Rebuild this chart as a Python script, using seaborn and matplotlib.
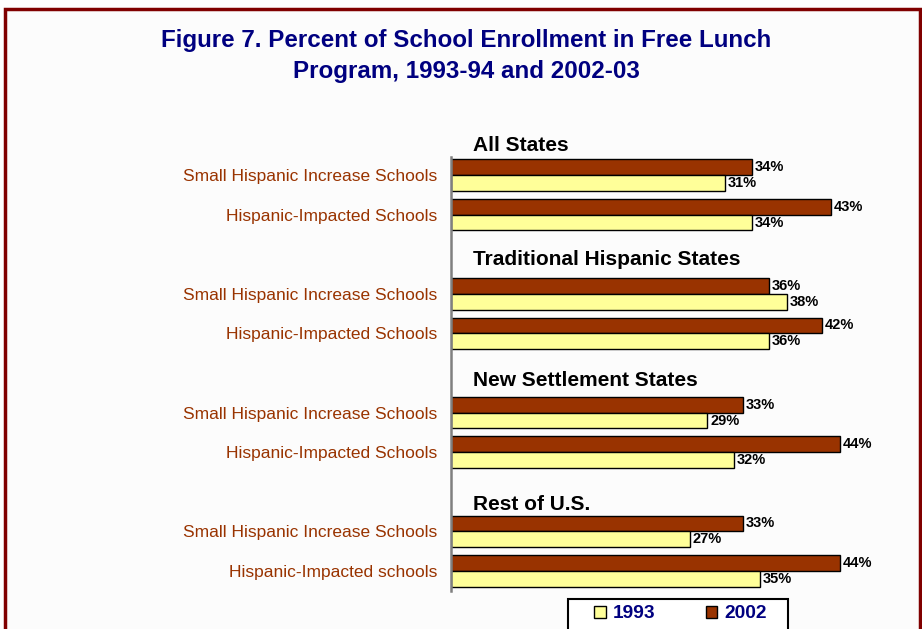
import pandas as pd
import matplotlib.pyplot as plt
import matplotlib.patches as mpatches
import seaborn as sns

# Data
groups = ["All States", "Traditional Hispanic States", "New Settlement States", "Rest of U.S."]
school_types = [
    ["Small Hispanic Increase Schools", "Hispanic-Impacted Schools"],
    ["Small Hispanic Increase Schools", "Hispanic-Impacted Schools"],
    ["Small Hispanic Increase Schools", "Hispanic-Impacted Schools"],
    ["Small Hispanic Increase Schools", "Hispanic-Impacted schools"],
]
pct_1993 = [31, 34, 38, 36, 29, 32, 27, 35]
pct_2002 = [34, 43, 36, 42, 33, 44, 33, 44]

RED = "#993300"
YELLOW = "#FFFF99"
NAVY = "#000080"

# rows: heading row + 2 school rows per group
order, ticklabels, rows = [], [], []
k = 0
for gi, g in enumerate(groups):
    order.append(f"h{gi}")
    ticklabels.append("")
    for st in school_types[gi]:
        rid = f"r{k}"
        order.append(rid)
        ticklabels.append(st)
        rows.append(rid)
        k += 1

df = pd.DataFrame({
    "row": rows * 2,
    "year": ["2002"] * len(rows) + ["1993"] * len(rows),
    "pct": pct_2002 + pct_1993,
})

plt.rcParams["font.family"] = ["Liberation Sans", "DejaVu Sans"]

W, H = 922, 629
fig = plt.figure(figsize=(W / 100, H / 100), dpi=100)
fig.patch.set_facecolor("white")

# dark red frame
frame = mpatches.Rectangle((5 / W, -0.05), 915 / W, 1.05 - 9 / H,
                           transform=fig.transFigure, facecolor="#FCFCFC",
                           edgecolor="#800000", linewidth=2.5, zorder=-10)
fig.patches.append(frame)

ax = fig.add_axes([451 / W, 1 - 590.8 / H, 442 / W, 475.2 / H])
ax.set_facecolor("none")

sns.barplot(data=df, y="row", x="pct", hue="year", order=order,
            hue_order=["2002", "1993"], palette=[RED, YELLOW], saturation=1,
            orient="h", width=0.8, edgecolor="black", linewidth=1,
            legend=False, ax=ax)

for c in ax.containers:
    ax.bar_label(c, fmt="%d%%", padding=2, fontsize=10.5, fontweight="bold")

ax.set_xlim(0, 50)
ax.set_ylim(11.5, -0.5)
ax.set_yticks(range(len(order)))
ax.set_yticklabels(ticklabels, color=RED, fontsize=12.5)
ax.tick_params(axis="y", length=0, pad=10)
ax.set_xticks([])
ax.set_xlabel("")
ax.set_ylabel("")
for s in ["top", "right", "bottom"]:
    ax.spines[s].set_visible(False)
ax.spines["left"].set_color("#808080")
ax.spines["left"].set_linewidth(1.8)
ax.spines["left"].set_bounds(0.55, 11.5)

heading_nudge = [0.25, 0.13, 0.2, 0.32]
for gi, g in enumerate(groups):
    ax.text(2.5, gi * 3 + heading_nudge[gi], g, fontsize=15, fontweight="bold",
            va="center", ha="left")

fig.text(466 / W, 1 - 56 / H,
         "Figure 7. Percent of School Enrollment in Free Lunch\nProgram, 1993-94 and 2002-03",
         ha="center", va="center", fontsize=17.4, fontweight="bold", color=NAVY,
         linespacing=1.45)

# legend box (partly cut by the bottom edge, as in the original)
box = mpatches.Rectangle((568 / W, -0.05), 220 / W, 1.05 - 599 / H,
                         transform=fig.transFigure, facecolor="white",
                         edgecolor="black", linewidth=1.5, zorder=5)
fig.patches.append(box)

handles = [mpatches.Patch(facecolor=YELLOW, edgecolor="black", label="1993"),
           mpatches.Patch(facecolor=RED, edgecolor="black", label="2002")]
leg = fig.legend(handles=handles, loc="center left", ncol=2,
                 bbox_to_anchor=(594 / W, 1 - 614 / H), borderaxespad=0,
                 frameon=False, handlelength=0.6, handleheight=0.6,
                 handletextpad=0.4, columnspacing=2.6, borderpad=0,
                 prop={"size": 13.8, "weight": "bold"})
leg.set_zorder(6)
for t in leg.get_texts():
    t.set_color(NAVY)

fig.savefig("out.png", dpi=100)
